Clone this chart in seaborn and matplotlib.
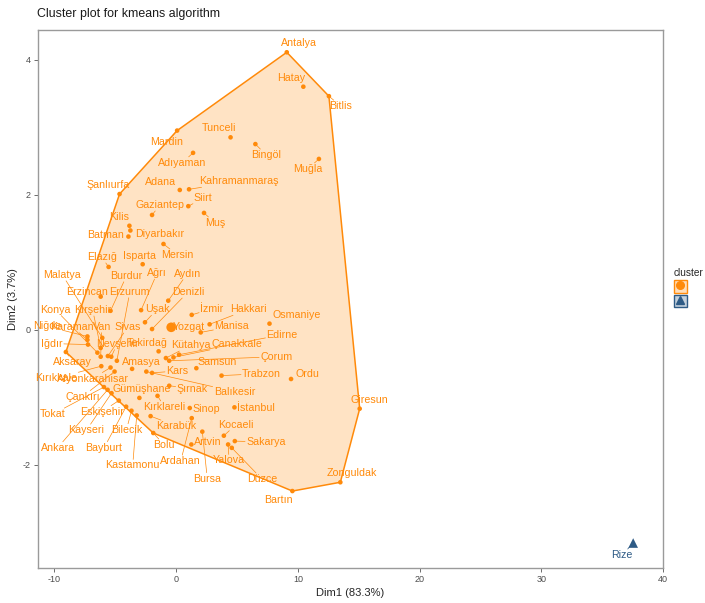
import numpy as np
import pandas as pd
import matplotlib
matplotlib.use("Agg")
import matplotlib.pyplot as plt
from matplotlib.patches import Polygon, Patch
from matplotlib.lines import Line2D
from matplotlib.legend_handler import HandlerTuple
from matplotlib.colors import to_rgba
import seaborn as sns

# ---- PCA coordinates of the provinces and their k-means cluster ----
provinces = [
    "Antalya", "Hatay", "Bitlis", "Tunceli", "Bingöl", "Muğla", "Mardin", "Adıyaman",
    "Adana", "Kahramanmaraş", "Siirt", "Muş", "Gaziantep", "Şanlıurfa", "Kilis", "Batman",
    "Diyarbakır", "Mersin", "Isparta", "Elazığ", "Malatya", "Erzincan", "Burdur", "Ağrı",
    "Aydın", "Erzurum", "Denizli", "Konya", "Kırşehir", "Uşak", "İzmir", "Hakkari",
    "Osmaniye", "Niğde", "Karaman", "Van", "Sivas", "Yozgat", "Manisa", "Iğdır",
    "Nevşehir", "Tekirdağ", "Kütahya", "Çanakkale", "Edirne", "Aksaray", "Amasya", "Samsun",
    "Çorum", "Kırıkkale", "Afyonkarahisar", "Kars", "Trabzon", "Ordu", "Gümüşhane", "Şırnak",
    "Balıkesir", "Çankırı", "Tokat", "Eskişehir", "Kırklareli", "Sinop", "İstanbul", "Giresun",
    "Karabük", "Kocaeli", "Kayseri", "Bilecik", "Bolu", "Artvin", "Sakarya", "Ankara",
    "Bayburt", "Ardahan", "Yalova", "Kastamonu", "Bursa", "Düzce", "Zonguldak", "Bartın",
    "Rize",
]
dim1 = [
    9.09, 10.45, 12.55, 4.47, 6.51, 11.73, 0.08, 1.39,
    0.30, 1.06, 1.00, 2.29, -1.98, -4.65, -3.84, -3.92,
    -3.76, -1.04, -2.75, -5.55, -6.07, -6.20, -5.39, -2.88,
    -0.65, -4.87, -1.98, -6.47, -6.20, -2.56, 1.28, 2.75,
    7.67, -7.29, -7.29, -6.20, -5.61, -0.49, 2.02, -7.24,
    -5.33, -1.44, -0.84, -0.22, 0.24, -9.06, -3.62, 1.66,
    -0.57, -6.15, -5.39, -1.98, 3.73, 9.44, -3.02, -0.57,
    -2.45, -5.06, -5.93, -4.71, -1.53, 1.12, 4.79, 15.08,
    -2.10, 3.92, -5.31, -3.67, -1.88, 1.25, 4.82, -5.63,
    -4.11, 1.28, 4.27, -3.24, 2.15, 4.57, 13.49, 9.55,
    37.55,
]
dim2 = [
    4.11, 3.60, 3.46, 2.85, 2.75, 2.53, 2.95, 2.62,
    2.07, 2.08, 1.83, 1.73, 1.70, 2.01, 1.54, 1.38,
    1.47, 1.27, 0.97, 0.93, -0.12, 0.49, 0.28, 0.29,
    0.43, -0.46, 0.01, -0.34, -0.27, 0.11, 0.22, 0.08,
    0.09, -0.10, -0.15, -0.40, -0.39, 0.03, -0.04, -0.22,
    -0.40, -0.32, -0.42, -0.41, -0.37, -0.33, -0.58, -0.57,
    -0.46, -0.54, -0.56, -0.64, -0.68, -0.73, -1.01, -0.83,
    -0.62, -0.62, -0.85, -1.05, -0.98, -1.16, -1.15, -1.17,
    -1.28, -1.57, -0.94, -1.20, -1.53, -1.70, -1.65, -0.89,
    -1.14, -1.31, -1.70, -1.27, -1.51, -1.75, -2.26, -2.39,
    -3.16,
]
cluster = ["1"] * 80 + ["2"]

# where each name sits relative to its point, in pixels (right, up)
label_shift = {
    "Antalya": (12, 9), "Hatay": (-12, 9), "Bitlis": (12, -10), "Tunceli": (-12, 9),
    "Bingöl": (11, -11), "Muğla": (-11, -10), "Mardin": (-10, -11), "Adıyaman": (-11, -10),
    "Adana": (-19, 8), "Kahramanmaraş": (50, 8), "Siirt": (15, 8), "Muş": (11, -10),
    "Gaziantep": (8, 10), "Şanlıurfa": (-11, 9), "Kilis": (-10, 9), "Batman": (-23, 2),
    "Diyarbakır": (29, -4), "Mersin": (14, -11), "Isparta": (-3, 8), "Elazığ": (-7, 10),
    "Malatya": (-40, 63), "Erzincan": (-14, 5), "Burdur": (16, 35), "Ağrı": (16, 37),
    "Aydın": (19, 27), "Erzurum": (13, 69), "Denizli": (36, 37), "Konya": (-42, 43),
    "Kırşehir": (-8, 38), "Uşak": (12, 13), "İzmir": (20, 6), "Hakkari": (39, 15),
    "Osmaniye": (27, 9), "Niğde": (-40, 10), "Karaman": (-15, 13), "Van": (1, 30),
    "Sivas": (20, 29), "Yozgat": (19, 1), "Manisa": (31, 6), "Iğdır": (-36, 1),
    "Nevşehir": (6, 13), "Tekirdağ": (-11, 8), "Kütahya": (25, 13), "Çanakkale": (63, 13),
    "Edirne": (103, 20), "Aksaray": (7, -10), "Amasya": (9, 7), "Samsun": (21, 6),
    "Çorum": (107, 4), "Kırıkkale": (-45, -12), "Afyonkarahisar": (-18, -11), "Kars": (25, 2),
    "Trabzon": (40, 2), "Ordu": (16, 5), "Gümüşhane": (2, 9), "Şırnak": (23, -3),
    "Balıkesir": (88, -20), "Çankırı": (-32, -25), "Tokat": (-51, -27), "Eskişehir": (-17, -11),
    "Kırklareli": (7, -11), "Sinop": (17, -1), "İstanbul": (21, -1), "Giresun": (10, 9),
    "Karabük": (26, -10), "Kocaeli": (12, 11), "Kayseri": (-25, -37), "Bilecik": (-5, -19),
    "Bolu": (11, -12), "Artvin": (16, 2), "Sakarya": (31, -1), "Ankara": (-50, -58),
    "Bayburt": (-22, -41), "Ardahan": (-11, -43), "Yalova": (1, -16), "Kastamonu": (-4, -50),
    "Bursa": (5, -47), "Düzce": (30, -31), "Zonguldak": (11, 9), "Bartın": (-14, -9),
    "Rize": (-11, -12),
}

palette = {"1": "#FF8A0A", "2": "#2E5B86"}
markers = {"1": "o", "2": "^"}


def convex_hull(points):
    """Andrew's monotone chain; returns hull vertices in order."""
    pts = sorted(map(tuple, points))
    if len(pts) < 3:
        return pts

    def cross(o, a, b):
        return (a[0] - o[0]) * (b[1] - o[1]) - (a[1] - o[1]) * (b[0] - o[0])

    lower, upper = [], []
    for p in pts:
        while len(lower) >= 2 and cross(lower[-2], lower[-1], p) <= 0:
            lower.pop()
        lower.append(p)
    for p in reversed(pts):
        while len(upper) >= 2 and cross(upper[-2], upper[-1], p) <= 0:
            upper.pop()
        upper.append(p)
    return lower[:-1] + upper[:-1]


df = pd.DataFrame({"name": provinces, "Dim1": dim1, "Dim2": dim2, "cluster": cluster})

sns.set_theme(style="white")
plt.rcParams["font.family"] = ["Liberation Sans", "DejaVu Sans"]
plt.rcParams["axes.unicode_minus"] = False

W, H = 705, 603
fig = plt.figure(figsize=(W / 100, H / 100), dpi=100)
ax = fig.add_axes([38 / W, (H - 568) / H, (663 - 38) / W, (568 - 30) / H])

# cluster frontiers
for cl, grp in df.groupby("cluster"):
    pts = grp[["Dim1", "Dim2"]].to_numpy()
    if len(pts) >= 3:
        hull = convex_hull(pts)
        ax.add_patch(Polygon(hull, closed=True, facecolor=palette[cl], alpha=0.24,
                             edgecolor="none", zorder=1))
        ax.add_patch(Polygon(hull, closed=True, fill=False, edgecolor=palette[cl],
                             lw=1.1, joinstyle="round", zorder=2))

# individual provinces
sns.scatterplot(data=df, x="Dim1", y="Dim2", hue="cluster", style="cluster",
                palette=palette, markers=markers, s=11, linewidth=0,
                legend=False, ax=ax, zorder=4)

# cluster centres
centers = df.groupby("cluster", as_index=False)[["Dim1", "Dim2"]].mean()
sns.scatterplot(data=centers, x="Dim1", y="Dim2", hue="cluster", style="cluster",
                palette=palette, markers=markers, s=48, linewidth=0,
                legend=False, ax=ax, zorder=5)

ax.set_xlim(-11.35, 39.67)
ax.set_ylim(-3.53, 4.44)
ax.set_xticks([-10, 0, 10, 20, 30, 40])
ax.set_yticks([-2, 0, 2, 4])
ax.tick_params(axis="both", which="both", length=3, width=0.6, color="#555555",
               labelsize=6.5, labelcolor="#4D4D4D", pad=2,
               bottom=True, left=True)
for sp in ax.spines.values():
    sp.set_color("#9A9A9A")
    sp.set_linewidth(1.0)
ax.set_xlabel("Dim1 (83.3%)", fontsize=8, labelpad=3)
ax.set_ylabel("Dim2 (3.7%)", fontsize=8, labelpad=4)

fig.text(37 / W, 1 - 14 / H, "Cluster plot for kmeans algorithm", fontsize=8.9,
         ha="left", va="center", color="#1a1a1a")

# province names
texts = []
for _, r in df.iterrows():
    dx, dy = label_shift.get(r["name"], (0, 8))
    t = ax.annotate(r["name"], xy=(r["Dim1"], r["Dim2"]),
                    xytext=(dx * 0.72, dy * 0.72), textcoords="offset points",
                    ha="center", va="center", fontsize=7.7,
                    color=palette[r["cluster"]], zorder=6)
    texts.append((t, r))

# connector segments from points to names that were pushed away
fig.canvas.draw()
renderer = fig.canvas.get_renderer()
inv = ax.transData.inverted()
for t, r in texts:
    bb = t.get_window_extent(renderer).expanded(1.0, 1.0)
    px, py = ax.transData.transform((r["Dim1"], r["Dim2"]))
    cx, cy = (bb.x0 + bb.x1) / 2, (bb.y0 + bb.y1) / 2
    gx = max(bb.x0 - px, 0, px - bb.x1)
    gy = max(bb.y0 - py, 0, py - bb.y1)
    if np.hypot(gx, gy) < 5:
        continue
    vx, vy = px - cx, py - cy
    tx = (bb.width / 2 + 1) / abs(vx) if vx != 0 else np.inf
    ty = (bb.height / 2 + 1) / abs(vy) if vy != 0 else np.inf
    s = min(tx, ty)
    ex, ey = cx + vx * s, cy + vy * s
    (x0, y0), (x1, y1) = inv.transform([(px, py), (ex, ey)])
    ax.add_line(Line2D([x0, x1], [y0, y1], color=palette[r["cluster"]],
                       lw=0.5, zorder=3))

# legend keys: filled box with the cluster marker on top
handles = []
for cl in ["1", "2"]:
    box = Patch(facecolor=to_rgba(palette[cl], 0.28), edgecolor=palette[cl], linewidth=1.0)
    mk = Line2D([], [], marker=markers[cl], color=palette[cl], linestyle="none",
                markersize=5.5)
    handles.append((box, mk))
leg = fig.legend(handles=handles, labels=["", ""], title="cluster",
                 handler_map={tuple: HandlerTuple(ndivide=1)},
                 loc="upper left", bbox_to_anchor=(672 / W, 1 - 266 / H),
                 frameon=False, fontsize=7.3, title_fontsize=7.3,
                 handlelength=1.25, handleheight=1.55, labelspacing=0.2,
                 borderaxespad=0, borderpad=0.2, handletextpad=0.2)
leg._legend_box.align = "left"

fig.savefig("out.png", dpi=100)
